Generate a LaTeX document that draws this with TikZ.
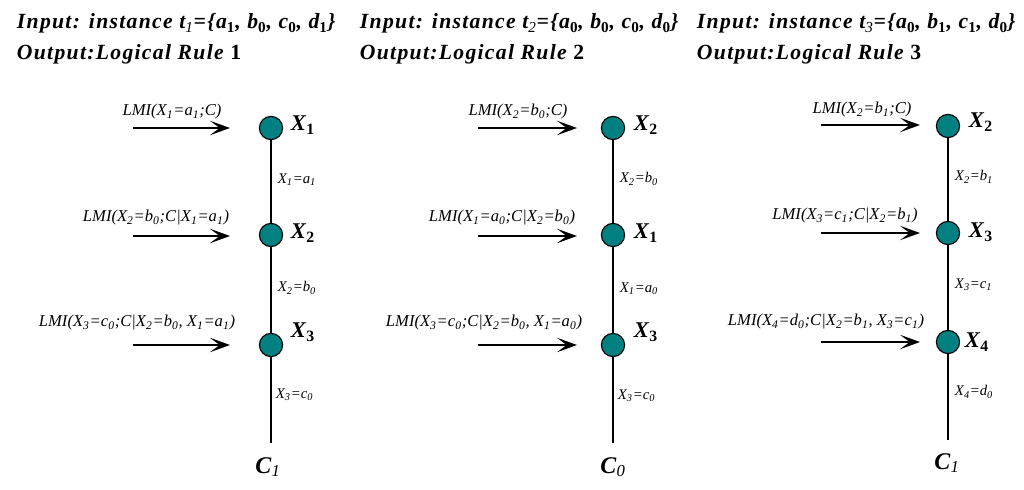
\documentclass[tikz,border=0pt]{standalone}
\usepackage{fontspec}
\setmainfont{Liberation Serif}
\newfontfamily\headfont[LetterSpace=6]{Liberation Serif}
\usetikzlibrary{arrows.meta}
\definecolor{nodeteal}{RGB}{0,128,128}
\newcommand{\sbs}[1]{\textsubscript{#1}}
\newcommand{\Xv}[1]{\textbf{\textit{X}\textsubscript{\textup{#1}}}}
\newcommand{\Cv}[1]{\textbf{\textit{C}}\textsubscript{\textit{#1}}}
\tikzset{
    varnode/.style={circle, draw=black, fill=nodeteal, line width=0.8pt, minimum size=5.8mm, inner sep=0pt},
    lmi/.style={font=\fontsize{11.8}{14}\selectfont\itshape},
    cond/.style={font=\fontsize{10.5}{12}\selectfont\itshape, anchor=west},
    vlabel/.style={font=\fontsize{16}{18}\selectfont, anchor=west},
    clabel/.style={font=\fontsize{17}{19}\selectfont},
    head/.style={font=\fontsize{15.4}{18}\selectfont\headfont\bfseries\itshape, anchor=base west},
    chain/.style={line width=0.8pt},
    gain/.style={line width=1.2pt, -{Stealth[length=5mm, width=3.6mm, inset=2.4mm]}}
}
\begin{document}
\begin{tikzpicture}[x=0.025cm, y=-0.025cm]
    \useasboundingbox (0,0) rectangle (1024,490);
    % Headers of the three rules.
        \node[head] (h1a) at (12,29) {Input: instance t\sbs{\mdseries 1}=\{a\sbs{\upshape 1}, b\sbs{\upshape 0}, c\sbs{\upshape 0}, d\sbs{\upshape 1}\}};
        \node[head] (h1b) at (12,60) {Output:Logical Rule \upshape 1};
        \node[head] (h2a) at (355,29) {Input: instance t\sbs{\mdseries 2}=\{a\sbs{\upshape 0}, b\sbs{\upshape 0}, c\sbs{\upshape 0}, d\sbs{\upshape 0}\}};
        \node[head] (h2b) at (355,60) {Output:Logical Rule \upshape 2};
        \node[head] (h3a) at (692,29) {Input: instance t\sbs{\mdseries 3}=\{a\sbs{\upshape 0}, b\sbs{\upshape 1}, c\sbs{\upshape 1}, d\sbs{\upshape 0}\}};
        \node[head] (h3b) at (692,60) {Output:Logical Rule \upshape 3};
    % Rule 1.
        \node[varnode] (r1x1) at (271,128) {};
        \node[varnode] (r1x2) at (271,235) {};
        \node[varnode] (r1x3) at (271,345) {};
        \coordinate (r1end) at (271,443);
        \draw[chain] (r1x1) -- (r1x2) -- (r1x3) -- (r1end);
        \node[vlabel] (r1l1) at (286,125) {\Xv{1}};
        \node[vlabel] (r1l2) at (286,233) {\Xv{2}};
        \node[vlabel] (r1l3) at (286,332) {\Xv{3}};
        \node[clabel] (r1c) at (268,467) {\Cv{1}};
        \node[cond] (r1e1) at (273,180) {X\sbs{1}=a\sbs{1}};
        \node[cond] (r1e2) at (273,288) {X\sbs{2}=b\sbs{0}};
        \node[cond] (r1e3) at (271,395) {X\sbs{3}=c\sbs{0}};
        \coordinate (r1s1) at (133,128); \coordinate (r1t1) at (230,128);
        \coordinate (r1s2) at (133,236); \coordinate (r1t2) at (230,236);
        \coordinate (r1s3) at (133,345); \coordinate (r1t3) at (230,345);
        \draw[gain] (r1s1) -- (r1t1);
        \draw[gain] (r1s2) -- (r1t2);
        \draw[gain] (r1s3) -- (r1t3);
        \node[lmi] (r1m1) at (172,112) {LMI(X\sbs{1}=a\sbs{1};C)};
        \node[lmi] (r1m2) at (156,218) {LMI(X\sbs{2}=b\sbs{0};C|X\sbs{1}=a\sbs{1})};
        \node[lmi] (r1m3) at (137,323) {LMI(X\sbs{3}=c\sbs{0};C|X\sbs{2}=b\sbs{0}, X\sbs{1}=a\sbs{1})};
    % Rule 2.
        \node[varnode] (r2x1) at (613,128) {};
        \node[varnode] (r2x2) at (613,235) {};
        \node[varnode] (r2x3) at (613,345) {};
        \coordinate (r2end) at (613,443);
        \draw[chain] (r2x1) -- (r2x2) -- (r2x3) -- (r2end);
        \node[vlabel] (r2l1) at (629,125) {\Xv{2}};
        \node[vlabel] (r2l2) at (629,233) {\Xv{1}};
        \node[vlabel] (r2l3) at (629,332) {\Xv{3}};
        \node[clabel] (r2c) at (613,467) {\Cv{0}};
        \node[cond] (r2e1) at (615,179) {X\sbs{2}=b\sbs{0}};
        \node[cond] (r2e2) at (615,289) {X\sbs{1}=a\sbs{0}};
        \node[cond] (r2e3) at (613,396) {X\sbs{3}=c\sbs{0}};
        \coordinate (r2s1) at (478,128); \coordinate (r2t1) at (577,128);
        \coordinate (r2s2) at (478,236); \coordinate (r2t2) at (577,236);
        \coordinate (r2s3) at (478,345); \coordinate (r2t3) at (577,345);
        \draw[gain] (r2s1) -- (r2t1);
        \draw[gain] (r2s2) -- (r2t2);
        \draw[gain] (r2s3) -- (r2t3);
        \node[lmi] (r2m1) at (518,112) {LMI(X\sbs{2}=b\sbs{0};C)};
        \node[lmi] (r2m2) at (502,218) {LMI(X\sbs{1}=a\sbs{0};C|X\sbs{2}=b\sbs{0})};
        \node[lmi] (r2m3) at (484,323) {LMI(X\sbs{3}=c\sbs{0};C|X\sbs{2}=b\sbs{0}, X\sbs{1}=a\sbs{0})};
    % Rule 3.
        \node[varnode] (r3x1) at (948,126) {};
        \node[varnode] (r3x2) at (948,233) {};
        \node[varnode] (r3x3) at (948,342) {};
        \coordinate (r3end) at (948,440);
        \draw[chain] (r3x1) -- (r3x2) -- (r3x3) -- (r3end);
        \node[vlabel] (r3l1) at (964,122) {\Xv{2}};
        \node[vlabel] (r3l2) at (964,232) {\Xv{3}};
        \node[vlabel] (r3l3) at (960,342) {\Xv{4}};
        \node[clabel] (r3c) at (947,463) {\Cv{1}};
        \node[cond] (r3e1) at (950,177) {X\sbs{2}=b\sbs{1}};
        \node[cond] (r3e2) at (950,285) {X\sbs{3}=c\sbs{1}};
        \node[cond] (r3e3) at (950,392) {X\sbs{4}=d\sbs{0}};
        \coordinate (r3s1) at (821,125); \coordinate (r3t1) at (920,125);
        \coordinate (r3s2) at (821,233); \coordinate (r3t2) at (920,233);
        \coordinate (r3s3) at (821,342); \coordinate (r3t3) at (920,342);
        \draw[gain] (r3s1) -- (r3t1);
        \draw[gain] (r3s2) -- (r3t2);
        \draw[gain] (r3s3) -- (r3t3);
        \node[lmi] (r3m1) at (862,110) {LMI(X\sbs{2}=b\sbs{1};C)};
        \node[lmi] (r3m2) at (845,216) {LMI(X\sbs{3}=c\sbs{1};C|X\sbs{2}=b\sbs{1})};
        \node[lmi] (r3m3) at (826,322) {LMI(X\sbs{4}=d\sbs{0};C|X\sbs{2}=b\sbs{1}, X\sbs{3}=c\sbs{1})};
\end{tikzpicture}
\end{document}
